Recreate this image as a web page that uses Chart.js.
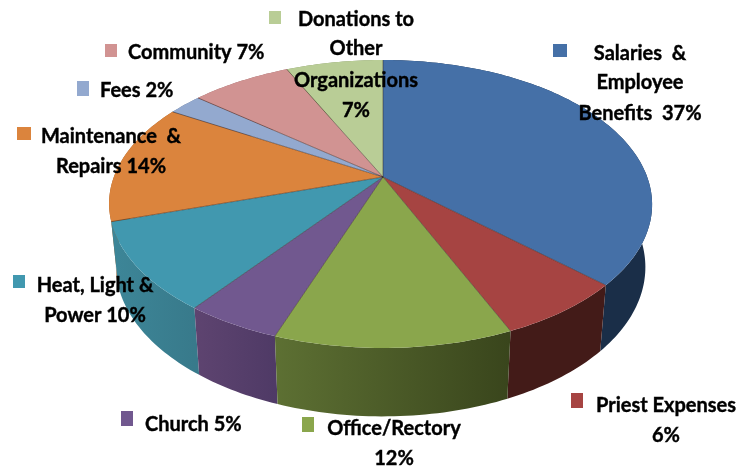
<!DOCTYPE html>
<html>
<head>
<meta charset="utf-8">
<title>Budget pie</title>
<script src="https://cdn.jsdelivr.net/npm/chart.js"></script>
<style>
  html, body { margin: 0; background: #fff; }
  canvas { display: block; }
</style>
</head>
<body>
<canvas id="budgetPie" width="738" height="470"></canvas>
<script>
// --- Data ---
const categories = ['Salaries & Employee Benefits', 'Priest Expenses', 'Office/Rectory', 'Church',
  'Heat, Light & Power', 'Maintenance & Repairs', 'Fees', 'Community', 'Donations to Other Organizations'];
const shares = [36.9, 6.6, 11.9, 4.8, 9.9, 13.5, 2.4, 7.1, 6.9];
const labelLines = [
  ['Salaries  &', 'Employee', 'Benefits  37%'],
  ['Priest Expenses', '6%'],
  ['Office/Rectory', '12%'],
  ['Church 5%'],
  ['Heat, Light &', 'Power 10%'],
  ['Maintenance  &', 'Repairs 14%'],
  ['Fees 2%'],
  ['Community 7%'],
  ['Donations to', 'Other', 'Organizations', '7%']
];

// --- Colours ---
const topColors = ['#4570a7', '#a64442', '#8aa64c', '#71588f', '#4198af', '#db843d', '#93a9cf', '#d19392', '#b9cd96'];
const wallLeft = ['#1a2e48', '#431b18', '#5d7033', '#5e4470', '#3d8698', '#a0602c', '#6b7b96', '#98696a', '#87966c'];
const wallRight = ['#1a2e48', '#431b18', '#39451c', '#4f3a66', '#387a8b', '#a0602c', '#6b7b96', '#98696a', '#87966c'];

// --- Layout (label anchor per category, swatch box per category) ---
const labelAnchors = [
  { x: 640, y: [60, 89, 120], align: 'center' },
  { x: 666, y: [412, 442], align: 'center' },
  { x: 394, y: [435, 465], align: 'center' },
  { x: 145, y: [431], align: 'left' },
  { x: 95, y: [292, 322], align: 'center' },
  { x: 111, y: [143, 173], align: 'center' },
  { x: 100, y: [97], align: 'left' },
  { x: 128, y: [59], align: 'left' },
  { x: 356, y: [26, 55, 87, 117], align: 'center' }
];
const swatches = [[553, 44, 14, 13], [571, 393, 12, 15], [302, 417, 12, 15], [121, 411, 12, 15],
  [13, 275, 12, 13], [17, 127, 14, 13], [77, 81, 12, 15], [105, 44, 12, 13], [269, 11, 12, 13]];

// --- Perspective of the disc ---
const persp = 0.1875, radiusX = 266.7, radiusY = 138.9, originX = 380.5, originY = 177;

function topPoint(a) {
  const u = Math.cos(a), v = Math.sin(a), s = 1 / (1 - persp * v);
  return { x: originX + radiusX * u * s + 2.5 * (1 - u * u), y: originY + radiusY * v * s };
}
// the bottom rim sits a bit narrower and about 68px lower than the top rim
function bottomPoint(a) {
  const p = topPoint(a);
  return { x: 383 + 0.975 * (p.x - 383), y: p.y + 66 + (p.y - 287) * 0.04 };
}
function arcPoints(start, end, fn) {
  const steps = Math.max(2, Math.ceil((end - start) / 0.02));
  const pts = [];
  for (let i = 0; i <= steps; i++) pts.push(fn(start + (end - start) * i / steps));
  return pts;
}
function tracePath(ctx, pts) {
  ctx.beginPath();
  pts.forEach((p, i) => (i ? ctx.lineTo(p.x, p.y) : ctx.moveTo(p.x, p.y)));
  ctx.closePath();
}

const pie3d = {
  id: 'pie3d',
  // replaces the flat arcs; the angles still come from the library's arc elements
  beforeDatasetDraw(chart) {
    const ctx = chart.ctx;
    const arcs = chart.getDatasetMeta(0).data;
    const order = arcs.map((_, i) => i).sort((a, b) =>
      Math.sin((arcs[a].startAngle + arcs[a].endAngle) / 2) - Math.sin((arcs[b].startAngle + arcs[b].endAngle) / 2));

    order.forEach(i => {
      const top = arcPoints(arcs[i].startAngle, arcs[i].endAngle, topPoint);
      const bottom = arcPoints(arcs[i].startAngle, arcs[i].endAngle, bottomPoint);
      const xs = top.map(p => p.x);
      const grad = ctx.createLinearGradient(Math.min(...xs), 0, Math.max(...xs), 0);
      grad.addColorStop(0, wallLeft[i]);
      grad.addColorStop(1, wallRight[i]);
      tracePath(ctx, top.concat(bottom.reverse()));
      ctx.fillStyle = grad;
      ctx.fill();
    });

    const centre = { x: originX + 2.5, y: originY };
    arcs.forEach((arc, i) => {
      tracePath(ctx, [centre].concat(arcPoints(arc.startAngle, arc.endAngle, topPoint)));
      ctx.fillStyle = topColors[i];
      ctx.fill();
    });
    arcs.forEach(arc => {
      const p = topPoint(arc.startAngle);
      ctx.beginPath();
      ctx.moveTo(centre.x, centre.y);
      ctx.lineTo(p.x, p.y);
      ctx.strokeStyle = 'rgba(40,25,20,0.45)';
      ctx.lineWidth = 1;
      ctx.stroke();
    });
    return false;
  },
  afterDraw(chart) {
    const ctx = chart.ctx;
    ctx.font = 'bold 20px Lato';
    ctx.fillStyle = '#000';
    ctx.strokeStyle = '#000';
    ctx.lineWidth = 0.4;
    ctx.textBaseline = 'alphabetic';
    labelLines.forEach((lines, i) => {
      const a = labelAnchors[i];
      ctx.textAlign = a.align;
      lines.forEach((line, j) => {
        ctx.fillText(line, a.x, a.y[j]);
        ctx.strokeText(line, a.x, a.y[j]); // reference text is heavier than Lato bold
      });
    });
    swatches.forEach((b, i) => {
      ctx.fillStyle = topColors[i];
      ctx.fillRect(b[0], b[1], b[2], b[3]);
    });
  }
};

new Chart(document.getElementById('budgetPie'), {
  type: 'pie',
  data: { labels: categories, datasets: [{ data: shares, backgroundColor: topColors, borderWidth: 0 }] },
  options: {
    responsive: false,
    animation: false,
    plugins: { legend: { display: false }, tooltip: { enabled: false } }
  },
  plugins: [pie3d]
});
</script>
</body>
</html>
